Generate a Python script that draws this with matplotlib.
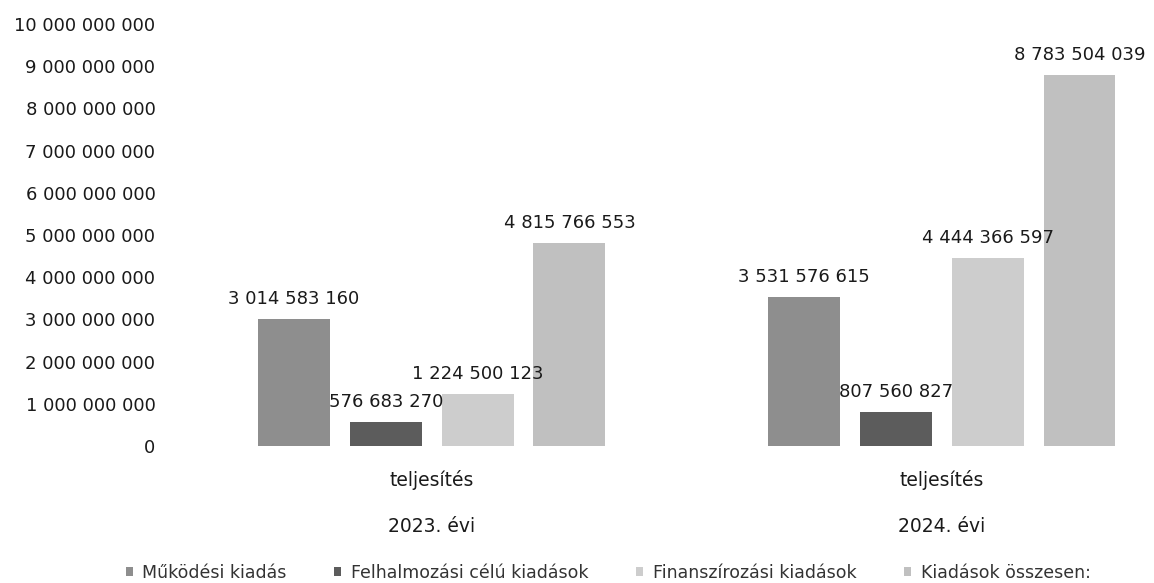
import matplotlib.pyplot as plt
import numpy as np

plt.rcParams['font.family'] = ['DejaVu Sans']

years = ["2023. évi", "2024. évi"]
sub_label = "teljesítés"
series_names = ["Működési kiadás", "Felhalmozási célú kiadások",
                "Finanszírozási kiadások", "Kiadások összesen:"]
mukodesi = [3014583160, 3531576615]
felhalmozasi = [576683270, 807560827]
finanszirozasi = [1224500123, 4444366597]
osszesen = [4815766553, 8783504039]
yticks = np.arange(0, 10_000_000_001, 1_000_000_000)

colors = ["#8e8e8e", "#5c5c5c", "#cdcdcd", "#c0c0c0"]
hatches = ["....", "xxxx", "....", "...."]
txt = "#1a1a1a"

def fmt(v):
    return f"{int(v):,}".replace(",", " ")

plt.rcParams['hatch.color'] = '#ffffff'
plt.rcParams['hatch.linewidth'] = 0.4

fig = plt.figure(figsize=(11.54, 5.83), dpi=100)
ax = fig.add_axes([0.154, 0.235, 0.846, 0.724])

x = np.arange(len(years))
width = 0.141
offsets = [-0.27, -0.09, 0.09, 0.27]
all_series = [mukodesi, felhalmozasi, finanszirozasi, osszesen]

for i, vals in enumerate(all_series):
    bars = ax.bar(x + offsets[i], vals, width, color=colors[i], hatch=hatches[i],
                  edgecolor=colors[i], linewidth=0, label=series_names[i])
    for b, v in zip(bars, vals):
        ax.annotate(fmt(v), (b.get_x() + b.get_width() / 2, v), xytext=(0, 8),
                    textcoords="offset points", ha="center", va="bottom",
                    fontsize=13, color=txt)

ax.set_xlim(-0.498, 1.416)
ax.set_ylim(0, 10_000_000_000)
ax.set_yticks(yticks)
ax.set_yticklabels([fmt(t) for t in yticks], fontsize=13, color=txt)
ax.tick_params(axis="y", length=0, pad=16)
ax.set_xticks([])
for s in ax.spines.values():
    s.set_visible(False)

trans = ax.get_xaxis_transform()
for xi, yr in zip(x, years):
    ax.text(xi, -0.081, sub_label, transform=trans, ha="center", va="center",
            fontsize=13.5, color=txt)
    ax.text(xi, -0.19, yr, transform=trans, ha="center", va="center",
            fontsize=13.5, color=txt)

fig.legend(loc="center", bbox_to_anchor=(0.527, 0.018), ncol=4, frameon=False,
           fontsize=12.5, handlelength=0.4, handleheight=0.4, handletextpad=0.55,
           columnspacing=2.75, labelcolor="#333333", borderpad=0)

fig.savefig("out.png", dpi=100)
